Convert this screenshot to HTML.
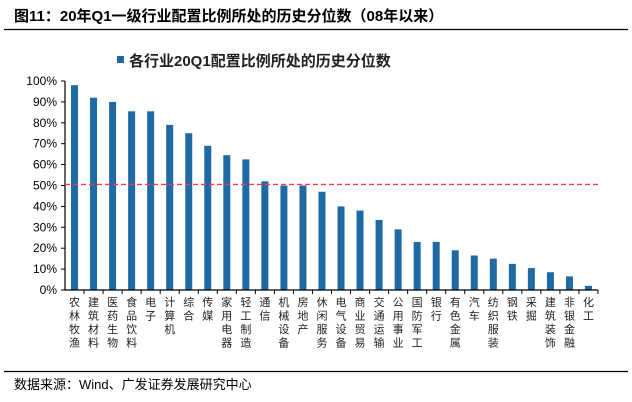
<!DOCTYPE html>
<html><head><meta charset="utf-8"><style>
body{margin:0;background:#fff;}
svg{display:block;font-family:"Liberation Sans","Noto Sans CJK SC",sans-serif;}
</style></head><body>
<svg id="c" width="632" height="402" viewBox="0 0 632 402">
<text x="14" y="21" font-size="15" font-weight="bold" fill="#000">图11：20年Q1一级行业配置比例所处的历史分位数（08年以来）</text>
<line x1="4" y1="29.5" x2="628" y2="29.5" stroke="#000" stroke-width="1.2"/>
<g>
<rect x="117" y="56" width="7" height="7" fill="#1f6aa5"/>
<text x="129" y="66" font-size="15" font-weight="bold" fill="#222">各行业20Q1配置比例所处的历史分位数</text>
</g>
<g id="plot"></g>
<line x1="4" y1="371.5" x2="628" y2="371.5" stroke="#000" stroke-width="1.2"/>
<text x="14" y="389" font-size="13" fill="#000">数据来源：Wind、广发证券发展研究中心</text>
</svg>
<script>
const categories=["农林牧渔","建筑材料","医药生物","食品饮料","电子","计算机","综合","传媒","家用电器","轻工制造","通信","机械设备","房地产","休闲服务","电气设备","商业贸易","交通运输","公用事业","国防军工","银行","有色金属","汽车","纺织服装","钢铁","采掘","建筑装饰","非银金融","化工"];
const values=[98,92,90,85.5,85.5,79,75,69,64.5,62.5,52,50,50,47,40,38,33.5,29,23,23,19,16.5,15,12.5,10.5,8.5,6.5,2];
const yTicks=[0,10,20,30,40,50,60,70,80,90,100];
const refLine=[50.5];
const NS="http://www.w3.org/2000/svg";
const g=document.getElementById("plot");
const x0=65,x1=598,yb=290,yt=81;
const step=(x1-x0)/categories.length;
const y=v=>yb-(v/100)*(yb-yt);
const xc=i=>x0+step*(i+0.5);
function mk(t,a,p){const e=document.createElementNS(NS,t);for(const k in a)e.setAttribute(k,a[k]);(p||g).appendChild(e);return e;}
yTicks.forEach(t=>{
 const l=mk("line",{x1:x0-4,x2:x0,y1:y(t),y2:y(t),stroke:"#000"});
 
 
 const tx=mk("text",{x:x0-8,y:y(t)+4,"font-size":12,"text-anchor":"end",fill:"#000"});
 tx.textContent=t+"%";
 
 
});
values.forEach((v,i)=>{
 const r=mk("rect",{x:xc(i)-3.5,y:y(v),width:7,height:yb-y(v),fill:"#1f6aa5"});
 
 
 const tk=mk("line",{x1:x0+step*(i+1),x2:x0+step*(i+1),y1:yb,y2:yb+4,stroke:"#000"});
 
 
 const tx=mk("text",{"font-size":11,fill:"#222","text-anchor":"middle"});
 
 
 [...categories[i]].forEach((ch,k)=>{
  const s=mk("tspan",{x:xc(i),y:yb+16+k*13.5},tx);
  s.textContent=ch;
 });
});
const ax=mk("line",{x1:x0,x2:x0,y1:yt,y2:yb,stroke:"#000","stroke-width":1.2});


const bx=mk("line",{x1:x0,x2:x1,y1:yb,y2:yb,stroke:"#000","stroke-width":1.2});


refLine.forEach(v=>{
 const l=mk("line",{x1:x0,x2:x1,y1:y(v),y2:y(v),stroke:"#ff3b3b","stroke-width":1.3,"stroke-dasharray":"5,3"});
 
 
});
</script>
</body></html>
